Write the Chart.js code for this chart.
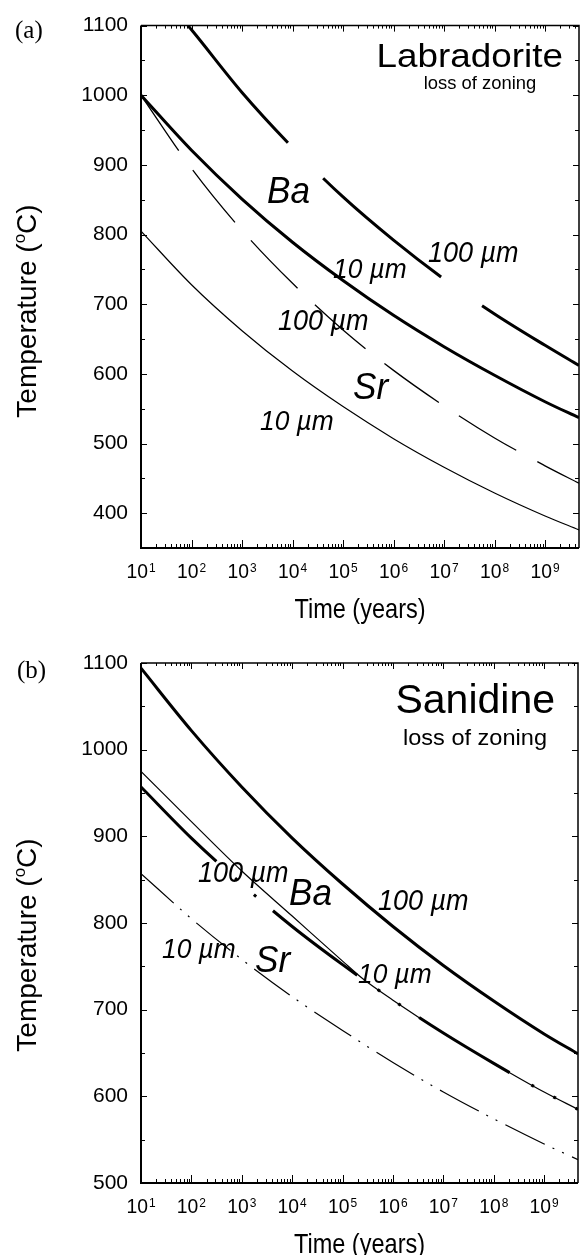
<!DOCTYPE html>
<html>
<head>
<meta charset="utf-8">
<script src="https://cdn.jsdelivr.net/npm/chart.js@4.4.1/dist/chart.umd.min.js"></script>
<style>
  body { margin: 0; background: #fff; }
  canvas { position: absolute; left: 0; }
  #chartA { top: 0; }
  #chartB { top: 630px; }
</style>
</head>
<body>
<canvas id="chartA" width="580" height="630"></canvas>
<canvas id="chartB" width="580" height="625"></canvas>
<script>
const SANS = '"Liberation Sans", Arial, sans-serif';
const SERIF = '"Liberation Serif", "Times New Roman", serif';

// time axis (years, log scale)
const xTicks = [1e1, 1e2, 1e3, 1e4, 1e5, 1e6, 1e7, 1e8, 1e9];
const xTickExp = ['1', '2', '3', '4', '5', '6', '7', '8', '9'];
const xMin = 10;
const xMax = 4.7e9;

// (a) Labradorite
const yTicksA = [400, 500, 600, 700, 800, 900, 1000, 1100];
const timeA = [1e1, 1e2, 1e3, 1e4, 1e5, 1e6, 1e7, 1e8, 1e9, 4.7e9];
const timeBa100A = [85, 1e2, 1e3, 1e4, 1e5, 1e6, 1e7, 1e8, 1e9, 4.7e9];
const ba100A = [1100, 1094, 1004, 925, 854, 792, 736, 686, 641, 612];
const ba10A = [1000, 921, 851, 789, 734, 684, 639, 598, 560, 537];
const sr100A = [1000, 895, 806, 730, 663, 605, 554, 508, 468, 443];
const sr10A = [805, 728, 662, 604, 553, 507, 466, 429, 396, 376];

// (b) Sanidine
const yTicksB = [500, 600, 700, 800, 900, 1000, 1100];
const timeB = [1e1, 1e2, 1e3, 1e4, 1e5, 1e6, 1e7, 1e8, 1e9, 4.7e9];
const timeBa10B = [1e1, 1e2, 1e3, 1e4, 1e5, 2.6e5, 1e6, 1e7, 1e8, 1e9, 4.7e9];
const ba100B = [1094, 1022, 957, 898, 845, 796, 751, 710, 672, 649];
const ba10B = [975, 917, 860, 808, 756, 735, 711, 673, 638, 605, 585];
const sr100B = [957, 898, 845, 796, 752, 711, 673, 638, 605, 585];
const sr10B = [857, 805, 758, 715, 676, 639, 605, 574, 545, 527];

const pts = (xs, ys) => xs.map((x, i) => ({ x: x, y: ys[i] }));

function line(data, width, dash) {
  return {
    data: data,
    borderColor: '#000',
    borderWidth: width,
    borderDash: dash || [],
    pointRadius: 0,
    fill: false,
    cubicInterpolationMode: 'monotone'
  };
}

function text(ctx, s, x, y, font, align, sx, sy) {
  ctx.save();
  ctx.font = font;
  ctx.textAlign = align || 'left';
  ctx.textBaseline = 'alphabetic';
  ctx.translate(x, y);
  ctx.scale(sx || 1, sy || 1);
  ctx.fillText(s, 0, 0);
  ctx.restore();
}

// axes frame, inside ticks, log tick labels and annotations
function frame(cfg) {
  return {
    id: 'frame',
    afterDraw(chart) {
      const ctx = chart.ctx, ca = chart.chartArea;
      const xs = chart.scales.x, ys = chart.scales.y;
      ctx.save();
      ctx.strokeStyle = '#000';
      ctx.fillStyle = '#000';

      ctx.lineWidth = 1;
      ctx.beginPath();
      for (let d = 1; d <= 9; d++) {
        for (let m = 1; m <= 9; m++) {
          const v = m * Math.pow(10, d);
          if (v > xs.max) break;
          const px = Math.round(xs.getPixelForValue(v)) + 0.5;
          const major = m === 1;
          ctx.moveTo(px, ca.bottom); ctx.lineTo(px, ca.bottom - (major ? 8 : 4));
          ctx.moveTo(px, ca.top); ctx.lineTo(px, ca.top + (major ? 6 : 3));
        }
      }
      cfg.yTicks.forEach(v => {
        const py = Math.round(ys.getPixelForValue(v)) + 0.5;
        ctx.moveTo(ca.left, py); ctx.lineTo(ca.left + 6, py);
        ctx.moveTo(ca.right, py); ctx.lineTo(ca.right - 6, py);
        const mv = v + 50;
        if (mv < ys.max) {
          const pm = Math.round(ys.getPixelForValue(mv)) + 0.5;
          ctx.moveTo(ca.left, pm); ctx.lineTo(ca.left + 4, pm);
          ctx.moveTo(ca.right, pm); ctx.lineTo(ca.right - 4, pm);
        }
      });
      ctx.stroke();

      ctx.lineWidth = 2;
      ctx.beginPath();
      ctx.moveTo(ca.left, ca.top); ctx.lineTo(ca.left, ca.bottom); ctx.lineTo(ca.right, ca.bottom);
      ctx.stroke();
      ctx.lineWidth = 1.5;
      ctx.beginPath();
      ctx.moveTo(ca.left, ca.top); ctx.lineTo(ca.right, ca.top); ctx.lineTo(ca.right, ca.bottom);
      ctx.stroke();

      // 10^n tick labels
      xTicks.forEach((v, i) => {
        const px = xs.getPixelForValue(v);
        ctx.font = '21px ' + SANS;
        const w1 = ctx.measureText('10').width * 0.92;
        ctx.font = '13px ' + SANS;
        const w2 = ctx.measureText(xTickExp[i]).width * 0.92;
        const x0 = px - (w1 + w2 + 1) / 2;
        const by = ca.bottom + 30;
        text(ctx, '10', x0, by, '21px ' + SANS, 'left', 0.92, 1);
        text(ctx, xTickExp[i], x0 + w1 + 1, by - 6, '13px ' + SANS, 'left', 0.92, 1);
      });

      text(ctx, 'Time (years)', (ca.left + ca.right) / 2, ca.bottom + 70, '28px ' + SANS, 'center', 0.84, 1);

      // rotated y title with raised "o"
      const runs = [['Temperature (', '28px ' + SANS, 0], ['o', '17px ' + SANS, -11], ['C)', '28px ' + SANS, 0]];
      ctx.save();
      ctx.translate(36, cfg.yTitleY);
      ctx.rotate(-Math.PI / 2);
      let w = 0;
      runs.forEach(r => { ctx.font = r[1]; w += ctx.measureText(r[0]).width; });
      let tx = -w / 2;
      runs.forEach(r => { ctx.font = r[1]; ctx.fillText(r[0], tx, r[2]); tx += ctx.measureText(r[0]).width; });
      ctx.restore();

      cfg.notes.forEach(n => {
        const font = (n.italic ? 'italic ' : '') + n.size + 'px ' + (n.serif ? SERIF : SANS);
        text(ctx, n.t, n.x, n.y, font, n.align, n.sx, n.sy);
      });
      ctx.restore();
    }
  };
}

function makeChart(id, datasets, yMin, yTicks, fit, cfg) {
  return new Chart(document.getElementById(id), {
    type: 'line',
    data: { datasets: datasets },
    options: {
      responsive: false,
      animation: false,
      events: [],
      layout: { padding: { top: fit.top, right: fit.right, left: 0, bottom: 0 } },
      plugins: { legend: { display: false }, tooltip: { enabled: false } },
      scales: {
        x: {
          type: 'logarithmic',
          min: xMin,
          max: xMax,
          grid: { display: false, drawTicks: false },
          border: { display: false },
          ticks: { display: false },
          afterBuildTicks: s => { s.ticks = xTicks.map(v => ({ value: v })); },
          afterFit: s => { s.height = fit.xHeight; }
        },
        y: {
          type: 'linear',
          min: yMin,
          max: 1100,
          grid: { display: false, drawTicks: false },
          border: { display: false },
          ticks: {
            color: '#000',
            padding: 13,
            font: { family: SANS, size: 21 },
            callback: v => String(v)
          },
          afterBuildTicks: s => { s.ticks = yTicks.map(v => ({ value: v })); },
          afterFit: s => { s.width = 141; }
        }
      }
    },
    plugins: [frame(cfg)]
  });
}

const mu = '\u00b5m';

makeChart('chartA', [
  line(pts(timeBa100A, ba100A), 3, [154, 50]),
  line(pts(timeA, ba10A), 3),
  line(pts(timeA, sr100A), 1.3, [67, 24]),
  line(pts(timeA, sr10A), 1.2)
], 350, yTicksA, { top: 24, right: 1, xHeight: 82 }, {
  yTicks: yTicksA,
  yTitleY: 311,
  notes: [
    { t: '(a)', x: 15, y: 38, size: 25, serif: true },
    { t: 'Labradorite', x: 563, y: 67, size: 33.5, sx: 1.1, align: 'right' },
    { t: 'loss of zoning', x: 480, y: 89, size: 18.4, align: 'center' },
    { t: 'Ba', x: 267, y: 203, size: 37, sx: 0.95, italic: true },
    { t: '100 ' + mu, x: 428, y: 262, size: 30, sx: 0.9, italic: true },
    { t: '10 ' + mu, x: 333, y: 278, size: 28, sx: 0.94, italic: true },
    { t: '100 ' + mu, x: 278, y: 330, size: 30, sx: 0.9, italic: true },
    { t: 'Sr', x: 353, y: 399, size: 37, sx: 0.95, italic: true },
    { t: '10 ' + mu, x: 260, y: 430, size: 28, sx: 0.94, italic: true }
  ]
});

makeChart('chartB', [
  line(pts(timeB, ba100B), 3),
  line(pts(timeB, sr100B), 3, [106, 25, 3, 22, 3, 22]),
  line(pts(timeBa10B, ba10B), 1.2),
  line(pts(timeB, sr10B), 1.2, [44, 8.5, 2, 8.5, 2, 9])
], 500, yTicksB, { top: 33, right: 2, xHeight: 72 }, {
  yTicks: yTicksB,
  yTitleY: 315,
  notes: [
    { t: '(b)', x: 17, y: 48, size: 25, serif: true },
    { t: 'Sanidine', x: 555, y: 83, size: 41, align: 'right' },
    { t: 'loss of zoning', x: 475, y: 115, size: 22, sx: 1.07, align: 'center' },
    { t: 'Ba', x: 289, y: 275, size: 37, sx: 0.95, italic: true },
    { t: '100 ' + mu, x: 378, y: 280, size: 30, sx: 0.9, italic: true },
    { t: '100 ' + mu, x: 198, y: 252, size: 30, sx: 0.9, italic: true },
    { t: '10 ' + mu, x: 358, y: 353, size: 28, sx: 0.94, italic: true },
    { t: '10 ' + mu, x: 162, y: 328, size: 28, sx: 0.94, italic: true },
    { t: 'Sr', x: 255, y: 342, size: 37, sx: 0.95, italic: true }
  ]
});
</script>
</body>
</html>
